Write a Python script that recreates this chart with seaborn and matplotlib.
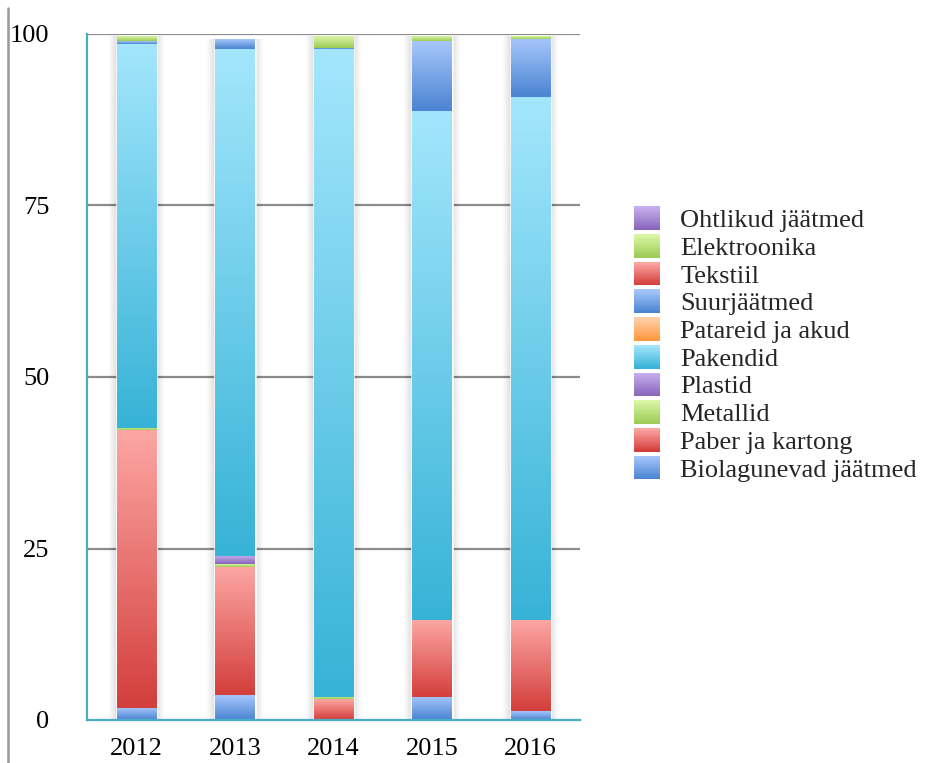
"""Stacked waste composition chart (share of collected waste by type, 2012-2016)."""

import matplotlib

matplotlib.use("Agg")
import matplotlib.colors as mcolors  # noqa: E402
import matplotlib.pyplot as plt      # noqa: E402
import numpy as np                   # noqa: E402
import pandas as pd                  # noqa: E402
import seaborn as sns                # noqa: E402
from matplotlib.legend_handler import HandlerBase  # noqa: E402
from matplotlib.lines import Line2D  # noqa: E402
from matplotlib.patches import Rectangle  # noqa: E402

YEARS = ["2012", "2013", "2014", "2015", "2016"]

# stack order, bottom -> top
CATEGORIES = [
    "Biolagunevad jäätmed", "Paber ja kartong", "Metallid", "Plastid", "Pakendid",
    "Patareid ja akud", "Suurjäätmed", "Tekstiil", "Elektroonika", "Ohtlikud jäätmed",
]
BIOLAGUNEVAD = [1.8, 3.6, 0.0, 3.4, 1.3]
PABER = [40.5, 18.7, 3.0, 11.2, 13.3]
METALLID = [0.3, 0.4, 0.35, 0.0, 0.0]
PLASTID = [0.0, 1.2, 0.0, 0.0, 0.0]
PAKENDID = [56.0, 73.9, 94.45, 74.2, 76.2]
PATAREID = [0.0, 0.0, 0.0, 0.0, 0.0]
SUURJAATMED = [0.4, 1.4, 0.2, 10.2, 8.5]
TEKSTIIL = [0.0, 0.0, 0.0, 0.0, 0.0]
ELEKTROONIKA = [0.7, 0.0, 1.7, 0.7, 0.4]
OHTLIKUD = [0.0, 0.0, 0.0, 0.0, 0.0]
VALUES = [BIOLAGUNEVAD, PABER, METALLID, PLASTID, PAKENDID,
          PATAREID, SUURJAATMED, TEKSTIIL, ELEKTROONIKA, OHTLIKUD]

# (top, bottom) of each fill gradient
BLUE = ("#a6c6fb", "#4a84d2")
RED = ("#fca6a3", "#d33f3c")
GREEN = ("#d9f6a4", "#9ccb57")
PURPLE = ("#c6aeee", "#8866bb")
CYAN = ("#a3e6fc", "#37b3d7")
ORANGE = ("#ffd0aa", "#ff983e")
GRADIENTS = [BLUE, RED, GREEN, PURPLE, CYAN, ORANGE, BLUE, RED, GREEN, PURPLE]

TEAL = "#4bacc6"
GRID = "#8c8c8c"
FONT = 19


class GradHandle:
    def __init__(self, top, bottom):
        self.top = np.array(mcolors.to_rgb(top))
        self.bottom = np.array(mcolors.to_rgb(bottom))


class GradientHandler(HandlerBase):
    def create_artists(self, legend, orig_handle, xdescent, ydescent, width, height, fontsize, trans):
        n = 14
        arts = []
        for k in range(n):
            f = k / (n - 1)
            col = orig_handle.bottom + (orig_handle.top - orig_handle.bottom) * f
            arts.append(Rectangle((-xdescent, -ydescent + height * k / n), width, height / n * 1.05,
                                  facecolor=col, edgecolor="none", transform=trans))
        return arts


def draw_gradient(ax, x0, x1, y0, y1, top, bottom):
    c0 = np.array(mcolors.to_rgb(bottom))
    c1 = np.array(mcolors.to_rgb(top))
    t = np.linspace(0, 1, 64)[:, None, None]
    img = c0 + (c1 - c0) * t
    ax.imshow(img, extent=(x0, x1, y0, y1), origin="lower", aspect="auto",
              interpolation="bilinear", zorder=3)


def main() -> None:
    sns.set_style("white")
    plt.rcParams["font.family"] = ["Liberation Serif", "DejaVu Serif"]

    rows = []
    for cat, vals in zip(CATEGORIES, VALUES):
        for year, v in zip(YEARS, vals):
            rows.append({"year": year, "category": cat, "value": v})
    df = pd.DataFrame(rows)
    df["category"] = pd.Categorical(df["category"], CATEGORIES, ordered=True)
    df = df.sort_values(["year", "category"])
    df["top"] = df.groupby("year")["value"].cumsum()
    df["bottom"] = df["top"] - df["value"]

    fig = plt.figure(figsize=(9.28, 7.63), dpi=100)
    ax = fig.add_axes([87 / 928, 1 - 720 / 763, (580 - 87) / 928, (720 - 34) / 763])

    # cumulative bars drawn top-down so each category overlays the ones above it
    for cat, grad in reversed(list(zip(CATEGORIES, GRADIENTS))):
        sub = df[df["category"] == cat]
        sns.barplot(data=sub, x="year", y="top", order=YEARS, color=grad[1],
                    width=0.4, saturation=1, ax=ax, zorder=2)

    bars = ax.patches[:len(YEARS)]
    xspan = {year: (b.get_x(), b.get_x() + b.get_width()) for year, b in zip(YEARS, bars)}

    # soft shadow around each bar
    totals = df.groupby("year")["top"].max()
    dx, dy = 5 / 493, 100 / 686
    for year in YEARS:
        x0, x1 = xspan[year]
        for k in range(1, 9):
            ax.add_patch(Rectangle((x0 - k * dx, -k * dy * 0.5), (x1 - x0) + 2 * k * dx,
                                   totals[year] + k * dy * 0.5, facecolor="black",
                                   alpha=0.014, edgecolor="none", zorder=1.5))

    for _, r in df.iterrows():
        if r["value"] <= 0:
            continue
        grad = GRADIENTS[CATEGORIES.index(r["category"])]
        x0, x1 = xspan[r["year"]]
        draw_gradient(ax, x0, x1, r["bottom"], r["top"], *grad)

    ax.set_xlim(-0.5, len(YEARS) - 0.5)
    ax.set_ylim(0, 100)
    ax.set_yticks([0, 25, 50, 75, 100])
    ax.set_xlabel("")
    ax.set_ylabel("")

    for y in [25, 50, 75, 100]:
        ax.axhline(y, color=GRID, lw=1.6, zorder=1)

    sns.despine(ax=ax, top=True, right=True)
    for side in ["left", "bottom"]:
        ax.spines[side].set_color(TEAL)
        ax.spines[side].set_linewidth(1.6)
        ax.spines[side].set_zorder(5)

    ax.set_xticks(np.arange(-0.5, len(YEARS)), minor=True)
    ax.tick_params(axis="x", which="major", length=0, pad=13, labelsize=FONT)
    ax.tick_params(axis="x", which="minor", length=6, width=1.6, color=TEAL, direction="out")
    ax.tick_params(axis="y", length=6, width=1.6, color=TEAL, direction="out",
                   pad=21, labelsize=FONT)
    for lab in ax.get_xticklabels() + ax.get_yticklabels():
        lab.set_color("black")

    handles = [GradHandle(*g) for g in GRADIENTS][::-1]
    labels = CATEGORIES[::-1]
    fig.legend(handles, labels, handler_map={GradHandle: GradientHandler()},
               loc="center left", bbox_to_anchor=(634 / 928, 1 - 344 / 763),
               frameon=False, fontsize=FONT, handlelength=1.0, handleheight=1.0,
               handletextpad=0.75, labelspacing=0.07, borderpad=0, borderaxespad=0)

    fig.add_artist(Line2D([8 / 928, 8 / 928], [0, 1 - 8 / 763], color="#999999", lw=1.8))

    fig.savefig("out.png", dpi=100)
    plt.close(fig)


if __name__ == "__main__":
    main()
